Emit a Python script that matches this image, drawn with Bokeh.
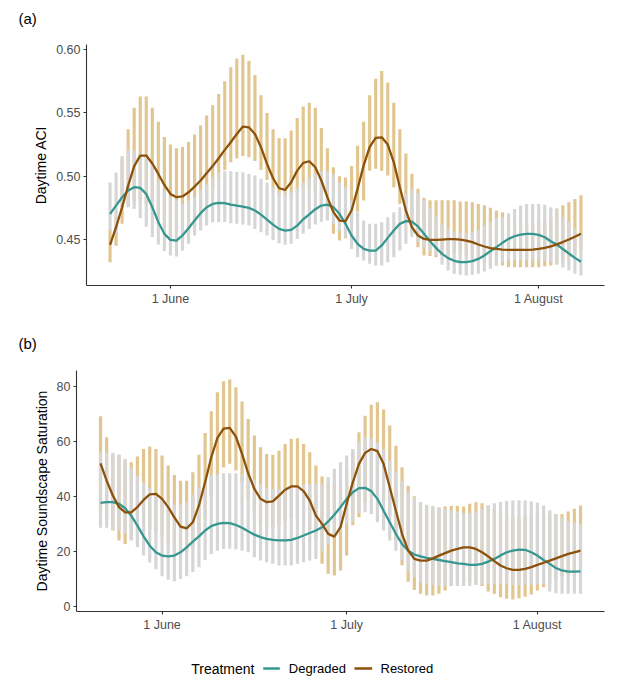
import pandas as pd
from bokeh.plotting import figure
from bokeh.layouts import column, row
from bokeh.models import FixedTicker, Range1d, ColumnDataSource, PrintfTickFormatter
from bokeh.core.properties import value
from bokeh.embed import file_html
from bokeh.resources import INLINE

# ---------------- data ----------------
START_DATE = "2021-05-22"
END_DATE = "2021-08-08"
REF_DATE = "2021-06-01"
TICK_DATES = ["2021-06-01", "2021-07-01", "2021-08-01"]
TICK_LABELS = ["1 June", "1 July", "1 August"]
TREATMENTS = ["Degraded", "Restored"]
PANEL_TAGS = ["(a)", "(b)"]

# Panel (a): Daytime ACI
aci_restored_hi = [0.458, 0.468, 0.514, 0.537, 0.554, 0.563, 0.563, 0.554, 0.543, 0.531,
                   0.525, 0.522, 0.523, 0.527, 0.533, 0.540, 0.548, 0.556, 0.565, 0.575,
                   0.586, 0.593, 0.596, 0.591, 0.580, 0.564, 0.550, 0.537, 0.530, 0.530,
                   0.536, 0.546, 0.555, 0.558, 0.554, 0.538, 0.522, 0.507, 0.500, 0.499,
                   0.508, 0.524, 0.543, 0.564, 0.577, 0.583, 0.574, 0.558, 0.537, 0.518,
                   0.502, 0.490, 0.483, 0.481, 0.481, 0.481, 0.481, 0.481, 0.480, 0.480,
                   0.4795, 0.478, 0.477, 0.475, 0.473, 0.4715, 0.468, 0.465, 0.463, 0.462,
                   0.462, 0.463, 0.465, 0.468, 0.4745, 0.477, 0.4795, 0.482, 0.485]
aci_restored_lo = [0.432, 0.445, 0.4624, 0.476, 0.480, 0.480, 0.478, 0.473, 0.466, 0.459,
                   0.453, 0.449, 0.448, 0.452, 0.460, 0.470, 0.480, 0.490, 0.498, 0.505,
                   0.511, 0.514, 0.516, 0.515, 0.512, 0.505, 0.497, 0.490, 0.485, 0.483,
                   0.484, 0.487, 0.490, 0.491, 0.488, 0.475, 0.466, 0.4545, 0.4492, 0.451,
                   0.460, 0.472, 0.4808, 0.5044, 0.5058, 0.5044, 0.5005, 0.4913, 0.478, 0.466,
                   0.455, 0.444, 0.4374, 0.437, 0.436, 0.437, 0.438, 0.439, 0.439, 0.438,
                   0.436, 0.434, 0.432, 0.430, 0.4295, 0.4295, 0.4282, 0.4282, 0.4282, 0.4282,
                   0.4282, 0.4282, 0.4287, 0.4295, 0.4308, 0.433, 0.436, 0.439, 0.442]
aci_degraded_hi = [0.495, 0.503, 0.516, 0.521, 0.520, 0.518, 0.515, 0.510, 0.4966, 0.4887,
                   0.4834, 0.4808, 0.4781, 0.4808, 0.4834, 0.4887, 0.4939, 0.4992, 0.5031, 0.5039,
                   0.5039, 0.5036, 0.5031, 0.5018, 0.5005, 0.4979, 0.495, 0.491, 0.488, 0.487,
                   0.488, 0.491, 0.495, 0.499, 0.502, 0.504, 0.5035, 0.5018, 0.4953, 0.4913,
                   0.4808, 0.4716, 0.465, 0.4624, 0.4624, 0.4637, 0.4676, 0.4716, 0.4755, 0.486,
                   0.490, 0.487, 0.481, 0.4745, 0.468, 0.462, 0.458, 0.456, 0.455, 0.455,
                   0.456, 0.458, 0.461, 0.464, 0.467, 0.4676, 0.4708, 0.4742, 0.4768, 0.4781,
                   0.4781, 0.4781, 0.4774, 0.4755, 0.4737, 0.4676, 0.464, 0.459, 0.455]
aci_degraded_lo = [0.457, 0.4545, 0.475, 0.4755, 0.4742, 0.467, 0.460, 0.452, 0.446, 0.441,
                   0.4374, 0.4366, 0.4413, 0.4466, 0.4532, 0.4571, 0.461, 0.4637, 0.4637, 0.4637,
                   0.4629, 0.4624, 0.4618, 0.461, 0.4584, 0.4558, 0.4532, 0.4497, 0.4471, 0.4458,
                   0.4466, 0.4505, 0.4545, 0.4584, 0.4618, 0.464, 0.465, 0.4624, 0.4571, 0.4518,
                   0.4426, 0.436, 0.4334, 0.4308, 0.4295, 0.4295, 0.4321, 0.436, 0.4413, 0.4466,
                   0.4518, 0.448, 0.4435, 0.441, 0.4375, 0.430, 0.4255, 0.4229, 0.4221, 0.4216,
                   0.4221, 0.4229, 0.4247, 0.4269, 0.4295, 0.432, 0.4334, 0.4334, 0.4334, 0.4334,
                   0.4334, 0.4334, 0.433, 0.432, 0.430, 0.428, 0.4255, 0.423, 0.4216]
aci_restored_fit = [0.4458, 0.4597, 0.4755, 0.4926, 0.508, 0.5163, 0.5163, 0.510, 0.5018, 0.4931,
                    0.486, 0.4834, 0.484, 0.4873, 0.4918, 0.4966, 0.5023, 0.508, 0.5142, 0.5208,
                    0.5268, 0.5334, 0.5392, 0.5386, 0.5334, 0.5229, 0.5097, 0.4984, 0.4905, 0.4892,
                    0.4952, 0.5044, 0.5105, 0.5118, 0.5071, 0.4966, 0.4834, 0.4716, 0.465, 0.4645,
                    0.4729, 0.490, 0.5084, 0.5229, 0.5302, 0.5307, 0.525, 0.511, 0.4913, 0.4729,
                    0.4597, 0.4532, 0.4505, 0.4497, 0.4497, 0.450, 0.4503, 0.4503, 0.450, 0.4492,
                    0.4479, 0.4461, 0.4445, 0.4432, 0.4426, 0.4421, 0.4418, 0.4418, 0.4418, 0.4418,
                    0.4421, 0.4426, 0.4434, 0.4445, 0.4462, 0.448, 0.450, 0.4522, 0.4545]
aci_degraded_fit = [0.4703, 0.4768, 0.4834, 0.4887, 0.4913, 0.4908, 0.4860, 0.4755, 0.4637, 0.4545,
                    0.4497, 0.4492, 0.4532, 0.4589, 0.4650, 0.4708, 0.4755, 0.4781, 0.4789, 0.4787,
                    0.4776, 0.4768, 0.4760, 0.4750, 0.4729, 0.4697, 0.4658, 0.4618, 0.4584, 0.4571,
                    0.4576, 0.4610, 0.4660, 0.4698, 0.4740, 0.4768, 0.4776, 0.4755, 0.4703, 0.4624,
                    0.4532, 0.4466, 0.4426, 0.4413, 0.4413, 0.4453, 0.4513, 0.4571, 0.4624, 0.4645,
                    0.4642, 0.4603, 0.4545, 0.4487, 0.4434, 0.4387, 0.4353, 0.4332, 0.4321, 0.4321,
                    0.4329, 0.4347, 0.4374, 0.4408, 0.4440, 0.4474, 0.4505, 0.4526, 0.4539, 0.4545,
                    0.4545, 0.4537, 0.4518, 0.4487, 0.4460, 0.4425, 0.4390, 0.4355, 0.4325]

# Panel (b): Daytime Soundscape Saturation
sat_restored_hi = [69.1, 61.5, 55.0, 55.0, 53.0, 52.4, 54.5, 57.2, 58.1, 57.2,
                   54.8, 51.2, 47.8, 45.7, 45.7, 48.8, 55.1, 63.0, 70.9, 77.8,
                   81.8, 82.4, 79.6, 74.4, 68.1, 62.1, 57.8, 55.4, 55.1, 56.6,
                   59.0, 60.9, 61.1, 59.0, 56.0, 51.2, 47.2, 45.0, 44.5, 44.0,
                   50.0, 56.0, 63.3, 69.3, 73.3, 74.2, 71.5, 65.7, 58.4, 50.6,
                   43.9, 40.0, 37.5, 36.5, 36.0, 36.0, 36.3, 36.5, 36.5, 36.3,
                   37.3, 37.9, 37.5, 36.7, 35.5, 34.0, 33.0, 32.5, 32.5, 32.8,
                   33.2, 33.5, 33.8, 34.0, 33.6, 33.6, 34.5, 35.5, 36.7]
sat_restored_lo = [35.0, 32.0, 27.6, 24.0, 22.7, 24.5, 26.0, 27.5, 28.0, 27.0,
                   25.5, 23.0, 20.5, 19.5, 19.5, 21.0, 25.0, 32.0, 40.0, 46.0,
                   50.5, 51.8, 49.4, 45.0, 39.0, 33.5, 30.0, 28.5, 28.5, 29.5,
                   31.0, 32.0, 32.0, 30.5, 28.0, 24.5, 15.5, 11.9, 11.3, 13.1,
                   18.5, 29.5, 32.4, 38.0, 42.0, 42.0, 39.0, 33.0, 24.0, 15.0,
                   9.0, 6.0, 4.6, 4.0, 4.0, 4.6, 5.8, 7.5, 8.5, 9.0,
                   9.0, 8.5, 7.5, 5.5, 4.6, 3.4, 2.8, 2.6, 3.0, 3.6,
                   4.4, 5.8, 7.0, 8.5, 10.0, 11.0, 12.0, 12.5, 13.0]
sat_degraded_hi = [56.0, 56.0, 55.8, 55.2, 53.6, 50.5, 47.5, 45.0, 43.0, 41.0,
                   39.5, 38.0, 37.0, 37.0, 38.0, 40.5, 43.3, 45.7, 47.6, 48.0,
                   48.4, 48.4, 48.4, 48.0, 47.0, 46.0, 44.5, 43.1, 42.7, 42.7,
                   43.0, 43.3, 43.9, 44.2, 44.5, 44.5, 44.3, 47.0, 50.0, 52.4,
                   54.8, 57.2, 60.0, 61.5, 61.0, 59.5, 57.0, 53.0, 49.0, 45.5,
                   41.5, 39.5, 38.0, 37.0, 36.5, 36.0, 35.5, 35.0, 34.5, 34.0,
                   34.0, 34.5, 35.5, 36.7, 37.5, 38.0, 38.3, 38.5, 38.6, 38.5,
                   38.2, 37.8, 36.7, 35.0, 33.6, 32.2, 31.0, 30.3, 30.0]
sat_degraded_lo = [28.6, 28.6, 27.8, 27.6, 26.4, 24.0, 21.5, 18.5, 16.0, 13.5,
                   11.0, 9.7, 9.2, 10.0, 11.0, 12.5, 14.3, 16.9, 19.1, 20.3,
                   20.9, 21.0, 20.8, 20.3, 19.7, 17.9, 16.7, 16.1, 15.5, 14.9,
                   14.9, 14.9, 15.5, 16.1, 16.7, 17.3, 20.3, 22.7, 25.2, 27.6,
                   30.0, 31.0, 34.0, 34.2, 33.6, 30.6, 27.6, 24.0, 20.3, 16.7,
                   13.1, 10.6, 8.8, 8.0, 7.8, 7.5, 7.5, 7.5, 7.5, 7.5,
                   7.5, 7.8, 8.0, 8.2, 8.2, 8.0, 8.0, 7.8, 7.8, 7.8,
                   7.8, 8.0, 8.2, 5.5, 4.8, 4.6, 4.6, 4.6, 4.6]
sat_restored_fit = [52.0, 45.7, 40.3, 36.1, 34.2, 34.2, 36.1, 38.7, 40.7, 40.9,
                    39.1, 36.1, 32.4, 29.0, 28.4, 30.6, 36.7, 45.1, 54.2, 61.2,
                    64.6, 64.9, 61.7, 55.4, 48.4, 42.7, 39.1, 37.9, 38.2, 40.3,
                    42.4, 43.6, 43.6, 41.9, 38.5, 33.0, 30.0, 26.4, 25.4, 28.8,
                    37.3, 45.1, 51.8, 55.8, 57.2, 56.4, 51.8, 43.3, 34.8, 26.4,
                    20.3, 17.3, 16.7, 16.7, 17.5, 18.5, 19.4, 20.3, 20.9, 21.5,
                    21.5, 20.9, 19.7, 18.2, 16.5, 14.9, 13.9, 13.3, 13.3, 13.7,
                    14.3, 15.1, 15.9, 16.7, 17.5, 18.3, 19.1, 19.7, 20.3]
sat_degraded_fit = [37.6, 37.9, 37.9, 37.3, 35.7, 33.0, 29.4, 25.5, 22.1, 19.7,
                    18.5, 18.2, 18.5, 19.7, 21.5, 23.6, 25.5, 27.6, 29.2, 30.0,
                    30.4, 30.3, 29.6, 28.6, 27.3, 26.1, 25.2, 24.6, 24.2, 24.0,
                    24.0, 24.2, 24.9, 25.8, 26.7, 27.6, 28.8, 30.9, 33.3, 36.1,
                    39.1, 41.5, 43.0, 43.1, 41.9, 39.1, 34.8, 30.6, 26.4, 22.7,
                    20.3, 18.9, 18.2, 17.7, 17.3, 16.9, 16.5, 16.1, 15.7, 15.5,
                    15.1, 15.1, 15.5, 16.3, 17.3, 18.5, 19.7, 20.3, 20.7, 20.6,
                    19.7, 18.5, 16.9, 15.5, 14.0, 13.1, 12.7, 12.7, 12.8]

ACI_TICKS = [0.45, 0.50, 0.55, 0.60]
SAT_TICKS = [0, 20, 40, 60, 80]

# ---------------- styling ----------------
FONT = "Liberation Sans"
TEAL = "#35978F"
BROWN = "#8C510A"
TAN = "#E2C690"
GREY = "#D6D6D6"
AXIS_COL = "#333333"
W = 615

ref = pd.Timestamp(REF_DATE)
dates = pd.date_range(START_DATE, END_DATE, freq="D")
days = [int((d - ref).days) for d in dates]
tick_days = [int((pd.Timestamp(t) - ref).days) for t in TICK_DATES]
span = days[-1] - days[0]
x_lo, x_hi = days[0] - 0.05 * span, days[-1] + 0.05 * span


def strip(height):
    s = figure(width=W, height=height, x_range=Range1d(0, W), y_range=Range1d(0, height),
               output_backend="svg", toolbar_location=None, min_border=0,
               x_axis_location=None, y_axis_location=None)
    s.xgrid.visible = False
    s.ygrid.visible = False
    s.outline_line_color = None
    return s


def tag_strip(tag, height, y):
    s = strip(height)
    s.text(x=[18], y=[y], text=[tag], text_font=value(FONT), text_font_size="15px",
           text_baseline="middle", text_align="left", text_color="black")
    return s


def make_panel(ylabel, yr, yticks, fmt, res_lo, res_hi, deg_lo, deg_hi,
               res_fit, deg_fit, height, left, top, bottom):
    src = ColumnDataSource(dict(day=days, res_lo=res_lo, res_hi=res_hi,
                                deg_lo=deg_lo, deg_hi=deg_hi,
                                res_fit=res_fit, deg_fit=deg_fit))
    p = figure(width=W, height=height, x_range=Range1d(x_lo, x_hi),
               y_range=Range1d(*yr), output_backend="svg", toolbar_location=None,
               min_border_left=left, min_border_right=11, min_border_top=top,
               min_border_bottom=bottom)
    p.vbar(x="day", width=0.52, bottom="res_lo", top="res_hi", source=src,
           fill_color=TAN, line_color=None)
    p.vbar(x="day", width=0.52, bottom="deg_lo", top="deg_hi", source=src,
           fill_color=GREY, line_color=None)
    p.line(x="day", y="deg_fit", source=src, line_color=TEAL, line_width=2.3)
    p.line(x="day", y="res_fit", source=src, line_color=BROWN, line_width=2.3)

    p.xgrid.visible = False
    p.ygrid.visible = False
    p.outline_line_color = None
    p.background_fill_color = "white"

    p.xaxis.ticker = FixedTicker(ticks=tick_days)
    p.xaxis.major_label_overrides = {d: lab for d, lab in zip(tick_days, TICK_LABELS)}
    p.yaxis.ticker = FixedTicker(ticks=yticks)
    p.yaxis.formatter = PrintfTickFormatter(format=fmt)
    p.yaxis.axis_label = ylabel
    for ax in (p.xaxis[0], p.yaxis[0]):
        ax.axis_line_color = AXIS_COL
        ax.axis_line_width = 1.1
        ax.major_tick_line_color = AXIS_COL
        ax.major_tick_line_width = 1.1
        ax.major_tick_out = 3
        ax.major_tick_in = 0
        ax.minor_tick_line_color = None
        ax.major_label_text_font = FONT
        ax.major_label_text_font_size = "12.5px"
        ax.major_label_text_color = "#4D4D4D"
        ax.major_label_standoff = 3
        ax.axis_label_text_font = FONT
        ax.axis_label_text_font_size = "14px"
        ax.axis_label_text_font_style = "normal"
        ax.axis_label_text_color = "black"
        ax.axis_label_standoff = 4
    return p


tag_a = tag_strip(PANEL_TAGS[0], 30, 12)
p1 = make_panel("Daytime ACI", (0.4137, 0.6040), ACI_TICKS, "%.2f",
                aci_restored_lo, aci_restored_hi, aci_degraded_lo, aci_degraded_hi,
                aci_restored_fit, aci_degraded_fit,
                height=296, left=86, top=14, bottom=41)
tag_b = tag_strip(PANEL_TAGS[1], 30, 13)
p2 = make_panel("Daytime Soundscape Saturation", (-1.8, 85.7), SAT_TICKS, "%d",
                sat_restored_lo, sat_restored_hi, sat_degraded_lo, sat_degraded_hi,
                sat_restored_fit, sat_degraded_fit,
                height=284, left=76, top=14, bottom=29)

# legend strip
p3 = strip(40)
ly = 12
p3.text(x=[190.7], y=[ly], text=["Treatment"], text_font=value(FONT),
        text_font_size="14px", text_baseline="middle", text_align="left", text_color="black")
p3.segment(x0=[262.7], y0=[ly], x1=[279.3], y1=[ly], line_color=TEAL, line_width=2.3)
p3.text(x=[288.3], y=[ly], text=[TREATMENTS[0]], text_font=value(FONT),
        text_font_size="13px", text_baseline="middle", text_align="left", text_color="black")
p3.segment(x0=[354.0], y0=[ly], x1=[371.7], y1=[ly], line_color=BROWN, line_width=2.3)
p3.text(x=[380.0], y=[ly], text=[TREATMENTS[1]], text_font=value(FONT),
        text_font_size="13px", text_baseline="middle", text_align="left", text_color="black")

layout = column(row(tag_a), row(p1), row(tag_b), row(p2), row(p3), spacing=0)
open("out.html", "w").write(file_html(layout, INLINE))
